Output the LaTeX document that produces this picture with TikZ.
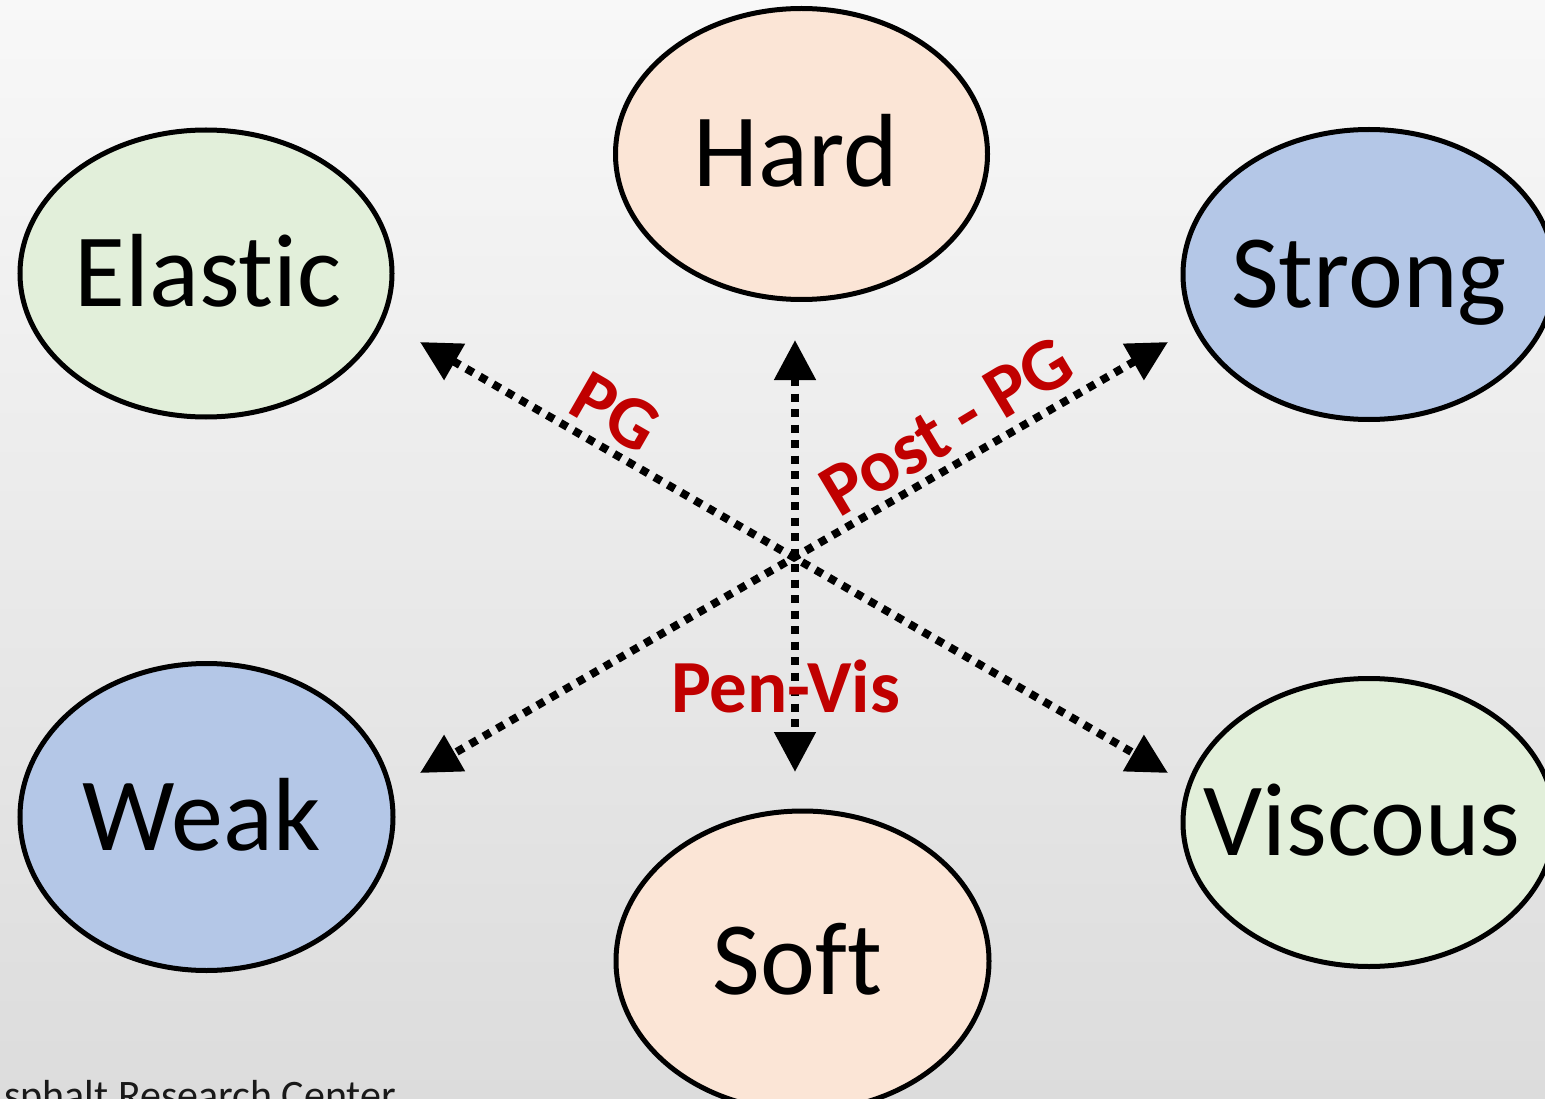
\documentclass[tikz,border=0pt]{standalone}
\usepackage{fontspec}
\setmainfont{Carlito}[Ligatures=NoCommon]
\usetikzlibrary{shapes.geometric,arrows.meta}
\definecolor{peach}{HTML}{FBE5D6}
\definecolor{mint}{HTML}{E2EFDA}
\definecolor{sky}{HTML}{B4C7E7}
\definecolor{lblred}{HTML}{C00000}
\definecolor{bgtop}{HTML}{F8F8F8}
\definecolor{bgbot}{HTML}{DCDCDC}
\begin{document}
\begin{tikzpicture}[x=1pt,y=-1pt,
  blob/.style={ellipse, draw=black, line width=5pt, inner sep=0pt},
  blobtext/.style={font=\fontsize{104}{110}\selectfont, inner sep=0pt, text height=66pt, text depth=0pt},
  conn/.style={line width=8pt, dash pattern=on 8pt off 7.5pt,
    {Triangle[length=40pt,width=40pt]}-{Triangle[length=40pt,width=40pt]}},
  lbl/.style={text=lblred, font=\fontsize{75}{80}\selectfont\bfseries, inner sep=0pt, text height=47pt, text depth=0pt}]
\useasboundingbox (0,0) rectangle (1545,1099);
\clip (0,0) rectangle (1545,1099);
\shade[top color=bgtop, bottom color=bgbot] (0,0) rectangle (1545,1099);

% ellipses
\node[blob, fill=peach, minimum width=372pt, minimum height=291pt] (hard) at (801.5,154) {};
\node[blob, fill=mint,  minimum width=372pt, minimum height=287pt] (elastic) at (206,273.5) {};
\node[blob, fill=sky,   minimum width=372pt, minimum height=290pt] (strong) at (1369,274.5) {};
\node[blob, fill=sky,   minimum width=373pt, minimum height=307pt] (weak) at (206.5,817) {};
\node[blob, fill=mint,  minimum width=372pt, minimum height=288pt] (viscous) at (1369,822.5) {};
\node[blob, fill=peach, minimum width=373pt, minimum height=300pt] (soft) at (802.5,961) {};

\node[blobtext] (hardT) at ([xshift=-6pt]hard.center) {Hard};
\node[blobtext] (elasticT) at ([xshift=2pt]elastic.center) {Elastic};
\node[blobtext] (strongT) at (strong.center) {Strong};
\node[blobtext] (weakT) at ([xshift=-5pt]weak.center) {Weak};
\node[blobtext] (viscousT) at ([xshift=-7pt]viscous.center) {Viscous};
\node[blobtext] (softT) at ([xshift=-5pt]soft.center) {Soft};

% connector end points
\coordinate (tEl) at (420,342);
\coordinate (tVi) at (1168,773);
\coordinate (tSt) at (1168,342);
\coordinate (tWe) at (420,773);
\coordinate (tHa) at (795,340);
\coordinate (tSo) at (795,772);

\draw[conn] (tEl) -- (tVi);
\draw[conn] (tSt) -- (tWe);
\draw[conn] (tHa) -- (tSo);

% labels
\node[lbl, rotate=-30] (pg) at (615,413) {PG};
\node[lbl, rotate=31] (postpg) at (947,427) {Post - PG};
\node[lbl] (penvis) at (785.5,688.5) {Pen-Vis};

\node[anchor=base west, inner sep=0pt, text=black!90, font=\fontsize{42}{48}\selectfont] (arc) at (4,1109.5) {sphalt Research Center};
\end{tikzpicture}
\end{document}
